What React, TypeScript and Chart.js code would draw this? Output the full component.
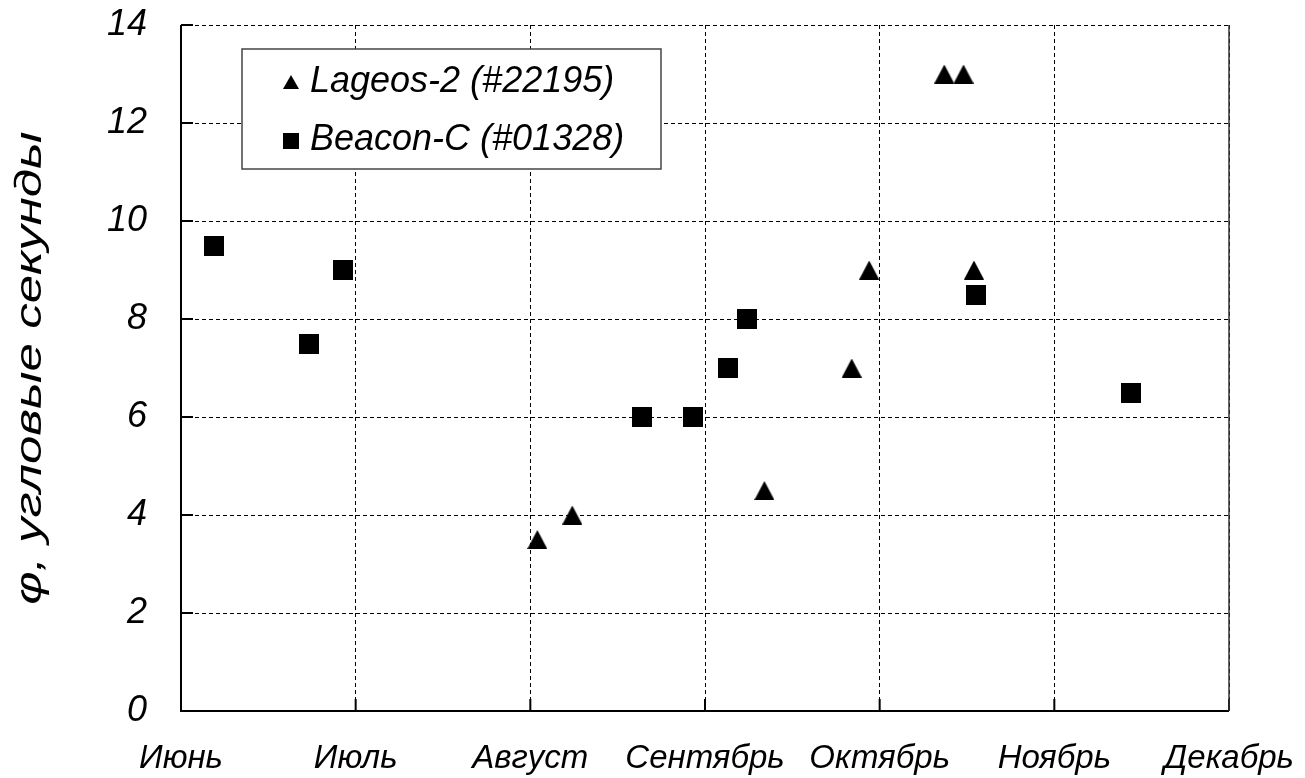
import React, { useEffect, useRef } from "react";
import { Chart, registerables } from "chart.js";

Chart.register(...registerables);

// ---- data ----
const months = ["Июнь", "Июль", "Август", "Сентябрь", "Октябрь", "Ноябрь", "Декабрь"];
const yTickValues = [0, 2, 4, 6, 8, 10, 12, 14];
const yTitle = "φ, угловые секунды";
const lageosLabel = "Lageos-2 (#22195)";
const beaconLabel = "Beacon-C (#01328)";
// x in months from the start of June
const lageosX = [2.04, 2.24, 3.34, 3.84, 3.94, 4.37, 4.48, 4.54];
const lageosY = [3.5, 4.0, 4.5, 7.0, 9.0, 13.0, 13.0, 9.0];
const beaconX = [0.19, 0.73, 0.93, 2.64, 2.93, 3.13, 3.24, 4.55, 5.44];
const beaconY = [9.5, 7.5, 9.0, 6.0, 6.0, 7.0, 8.0, 8.5, 6.5];

const FONT = "'Liberation Sans', Arial, sans-serif";

function makeTriangle(w: number, h: number) {
  const c = document.createElement("canvas");
  c.width = w;
  c.height = h;
  const g = c.getContext("2d")!;
  g.fillStyle = "#000";
  g.beginPath();
  g.moveTo(w / 2, 0);
  g.lineTo(w, h);
  g.lineTo(0, h);
  g.closePath();
  g.fill();
  return c;
}

function makeSquare(s: number) {
  const c = document.createElement("canvas");
  c.width = s;
  c.height = s;
  const g = c.getContext("2d")!;
  g.fillStyle = "#000";
  g.fillRect(0, 0, s, s);
  return c;
}

export default function App() {
  const ref = useRef<HTMLCanvasElement | null>(null);

  useEffect(() => {
    if (!ref.current) return;
    const tri = makeTriangle(20, 19);
    const sq = makeSquare(20);
    const triLegend = makeTriangle(16, 14);
    const sqLegend = makeSquare(16);

    const frame = {
      id: "frame",
      beforeDatasetsDraw(chart: any) {
        const { ctx, chartArea, scales } = chart;
        const { left, right, top, bottom } = chartArea;
        ctx.save();
        ctx.strokeStyle = "#000";
        ctx.lineWidth = 2;
        ctx.beginPath();
        ctx.moveTo(left, top);
        ctx.lineTo(left, bottom);
        ctx.lineTo(right, bottom);
        ctx.stroke();
        ctx.beginPath();
        scales.y.ticks.forEach((t: any) => {
          const py = scales.y.getPixelForValue(t.value);
          ctx.moveTo(left, py);
          ctx.lineTo(left + 12, py);
        });
        scales.x.ticks.forEach((t: any) => {
          const px = scales.x.getPixelForValue(t.value);
          ctx.moveTo(px, bottom);
          ctx.lineTo(px, bottom - 12);
        });
        ctx.stroke();
        ctx.strokeStyle = "#333";
        ctx.lineWidth = 1.5;
        ctx.beginPath();
        ctx.moveTo(right, top);
        ctx.lineTo(right, bottom);
        ctx.stroke();

        // y-axis title (wide italic lettering, as in the reference)
        ctx.fillStyle = "#000";
        ctx.font = `italic 37px ${FONT}`;
        ctx.textAlign = "center";
        ctx.textBaseline = "middle";
        ctx.translate(31, (top + bottom) / 2);
        ctx.rotate(-Math.PI / 2);
        ctx.scale(1.38, 1);
        ctx.fillText(yTitle, 0, 0);
        ctx.restore();
      },
      afterDraw(chart: any) {
        const { ctx, chartArea } = chart;
        const { left, top } = chartArea;
        const bx = left + 61;
        const by = top + 24;
        ctx.save();
        ctx.fillStyle = "#fff";
        ctx.fillRect(bx, by, 419, 120);
        ctx.strokeStyle = "#444";
        ctx.lineWidth = 1.5;
        ctx.strokeRect(bx, by, 419, 120);
        const ds = chart.data.datasets;
        const rows = [
          { img: triLegend, cy: top + 57, base: top + 67, text: ds[0].label },
          { img: sqLegend, cy: top + 116, base: top + 125, text: ds[1].label },
        ];
        ctx.fillStyle = "#000";
        ctx.font = `italic 36px ${FONT}`;
        ctx.textAlign = "left";
        ctx.textBaseline = "alphabetic";
        rows.forEach((r) => {
          ctx.drawImage(r.img, left + 110 - r.img.width / 2, r.cy - r.img.height / 2);
          ctx.fillText(r.text, left + 129, r.base);
        });
        ctx.restore();
      },
    };

    const chart = new Chart(ref.current, {
      type: "scatter",
      data: {
        datasets: [
          {
            label: lageosLabel,
            data: lageosX.map((x, i) => ({ x, y: lageosY[i] })),
            pointStyle: tri as any,
            backgroundColor: "#000",
            borderColor: "#000",
          },
          {
            label: beaconLabel,
            data: beaconX.map((x, i) => ({ x, y: beaconY[i] })),
            pointStyle: sq as any,
            backgroundColor: "#000",
            borderColor: "#000",
          },
        ],
      },
      options: {
        responsive: false,
        animation: false,
        layout: { padding: { left: 0, top: 25, right: 76, bottom: 0 } },
        plugins: {
          legend: { display: false },
          tooltip: { enabled: false },
        },
        scales: {
          x: {
            type: "linear",
            min: 0,
            max: months.length - 1,
            afterBuildTicks: (s: any) => {
              s.ticks = months.map((_, i) => ({ value: i }));
            },
            afterFit: (s: any) => {
              s.height = 67;
              s.paddingLeft = 0;
              s.paddingRight = 0;
            },
            ticks: {
              autoSkip: false,
              maxRotation: 0,
              padding: 28,
              color: "#000",
              font: { family: FONT, size: 33, style: "italic" },
              callback: (v: any) => months[Math.round(Number(v))],
            },
            grid: { color: "#000", lineWidth: 1, drawTicks: false },
            border: { display: false, dash: [4, 3] },
          },
          y: {
            min: 0,
            max: 14,
            afterBuildTicks: (s: any) => {
              s.ticks = yTickValues.map((v) => ({ value: v }));
            },
            afterFit: (s: any) => {
              s.width = 181;
              s.paddingTop = 0;
              s.paddingBottom = 0;
            },
            ticks: {
              padding: 34,
              color: "#000",
              font: { family: FONT, size: 36, style: "italic" },
            },
            grid: { color: "#000", lineWidth: 1, drawTicks: false },
            border: { display: false, dash: [4, 3] },
            title: { display: false, text: yTitle },
          },
        },
      },
      plugins: [frame],
    });
    return () => chart.destroy();
  }, []);

  return (
    <div style={{ position: "absolute", left: 0, top: 0, width: 1305, height: 778, background: "#fff" }}>
      <canvas ref={ref} width={1305} height={778} style={{ display: "block" }} />
    </div>
  );
}
